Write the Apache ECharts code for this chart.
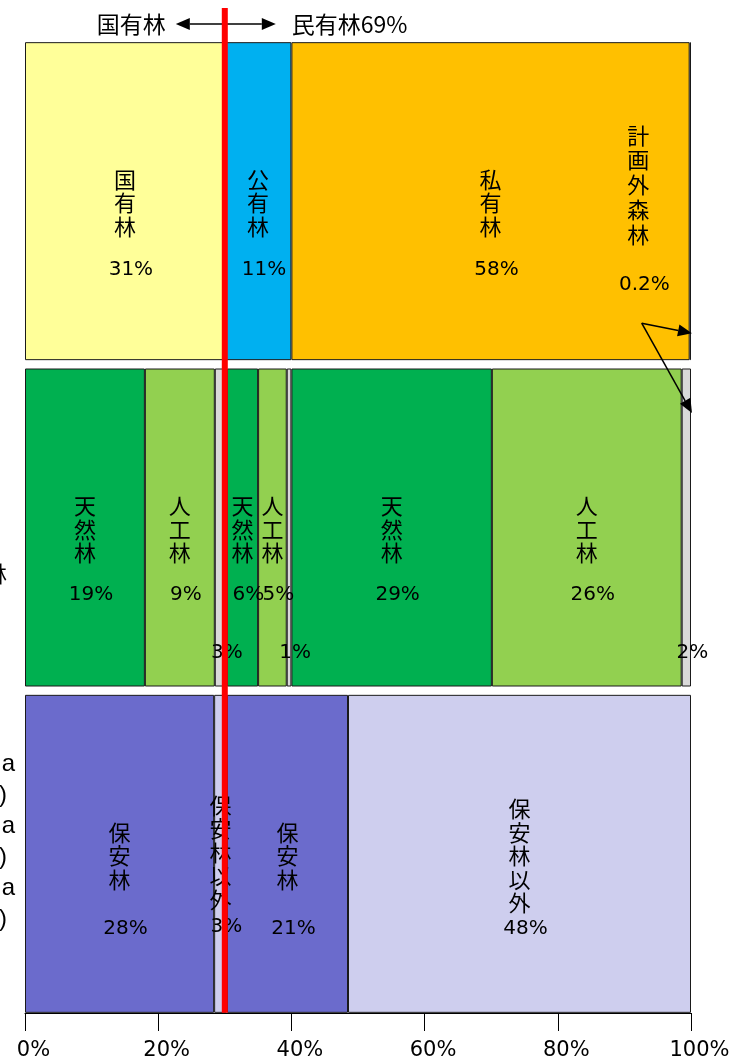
<!DOCTYPE html>
<html>
<head>
<meta charset="utf-8">
<script src="https://cdn.jsdelivr.net/npm/echarts@6/dist/echarts.min.js"></script>
<style>
html,body{margin:0;padding:0;background:#fff;}
#c{width:751px;height:1062px;}
</style>
</head>
<body>
<div id="c"></div>
<script>
// ================= DATA =================
const rowCategories = ['所有区分', '林種区分', '保安林区分'];
const rowLabelFragments = ['', '林', 'a\n)\na\n)\na\n)'];
const segmentRows = [0, 0, 0, 0, 1, 1, 1, 1, 1, 1, 1, 1, 1, 2, 2, 2, 2];
const segmentKinds = ['national', 'public', 'private', 'outside',
  'natural', 'planted', 'other', 'natural', 'planted', 'other', 'natural', 'planted', 'other',
  'protect', 'nonprotect', 'protect', 'nonprotect'];
const segmentTexts = ['国有林', '公有林', '私有林', '計画外森林',
  '天然林', '人工林', '', '天然林', '人工林', '', '天然林', '人工林', '',
  '保安林', '保安林以外', '保安林', '保安林以外'];
const segmentValues = [30.0, 10.0, 59.8, 0.2,
  18.0, 10.5, 1.8, 4.7, 4.3, 0.7, 30.1, 28.5, 1.4,
  28.4, 1.9, 18.2, 51.5];
const segmentPercentLabels = ['31%', '11%', '58%', '0.2%',
  '19%', '9%', '3%', '6%', '5%', '1%', '29%', '26%', '2%',
  '28%', '3%', '21%', '48%'];
const boundaryValue = 30;                 // 国有林 | 民有林 boundary
const topLabels = ['国有林', '民有林69%'];
const calloutFromValue = 92.6;            // origin of the two callout arrows (x, %)
const xTickFormat = '{value}%';

// ================= STYLE / LAYOUT =================
const CJK = '"Noto Sans CJK JP", sans-serif';
const NUM = '"DejaVu Sans", "Noto Sans CJK JP", sans-serif';
const COLORS = {
  national: '#FFFF99', public: '#00B0F0', private: '#FFC000', outside: '#D9D9D9',
  natural: '#00B050', planted: '#92D050', other: '#D9D9D9',
  protect: '#6B6BCC', nonprotect: '#CECEEE'
};
const BAR_W = 318;
const LINE_H = 23.5;
const ROW_CHAR_DY = [1.5, 2, 2];
const ROW_PCT_DY = [69, 67.5, 74.5];
const SMALL_PCT_DY = 125.5;
const LABEL_NUDGE = { 3: { dx: -52, cdy: -16.5, pdy: 84, lineH: 24.75 }, 14: { cdy: -1.5, pdy: 73 } };

function buildLabel(i) {
  const row = segmentRows[i];
  const chars = segmentTexts[i] ? segmentTexts[i].split('') : [];
  const nudge = LABEL_NUDGE[i] || {};
  const dx = nudge.dx || 0;
  const lh = nudge.lineH || LINE_H;
  const cdy = nudge.cdy !== undefined ? nudge.cdy : ROW_CHAR_DY[row];
  const pdy = nudge.pdy !== undefined ? nudge.pdy : ROW_PCT_DY[row];
  const pct = segmentPercentLabels[i];
  const base = {
    show: true, position: 'inside', color: '#000', textBorderWidth: 0,
    fontFamily: NUM, fontSize: 20
  };
  if (chars.length === 0) {
    return Object.assign(base, {
      offset: [dx, SMALL_PCT_DY],
      formatter: '{p|' + pct + '}',
      rich: { p: { fontFamily: NUM, fontSize: 20, color: '#000', lineHeight: 24, padding: [0, 0, 0, 12] } }
    });
  }
  const n = chars.length;
  const dy = pdy - n * lh / 2;
  const L = 2 * (dy - cdy);
  return Object.assign(base, {
    offset: [dx, dy],
    formatter: chars.map(c => '{c|' + c + '}').join('\n') + '\n{p|' + pct + '}',
    rich: {
      c: { fontFamily: CJK, fontSize: 22, color: '#000', lineHeight: lh },
      p: { fontFamily: NUM, fontSize: 20, color: '#000', lineHeight: L, padding: [0, 0, 0, 12] }
    }
  });
}

const series = segmentValues.map((v, i) => ({
  type: 'bar',
  name: segmentTexts[i] || 'その他',
  stack: 'total',
  barWidth: BAR_W,
  data: rowCategories.map((_, r) => (r === segmentRows[i] ? v : '-')),
  itemStyle: { color: COLORS[segmentKinds[i]], borderColor: '#1a1a1a', borderWidth: 1 },
  label: buildLabel(i),
  emphasis: { disabled: true },
  silent: true
}));

const chart = echarts.init(document.getElementById('c'), null, { renderer: 'canvas' });
chart.setOption({
  animation: false,
  backgroundColor: '#fff',
  grid: { left: 25, right: 60, top: 38, bottom: 45, containLabel: false, outerBoundsMode: 'none' },
  xAxis: {
    type: 'value', min: 0, max: 100, interval: 20, offset: -4,
    axisLine: { show: true, lineStyle: { color: '#000', width: 1 } },
    axisTick: { show: true, length: 18, lineStyle: { color: '#000', width: 1 } },
    splitLine: { show: false },
    axisLabel: { formatter: xTickFormat, fontFamily: NUM, fontSize: 21, color: '#000', margin: 27, padding: [0, 0, 0, 17] }
  },
  yAxis: {
    type: 'category', data: rowCategories, inverse: true,
    axisLine: { show: false }, axisTick: { show: false }, splitLine: { show: false },
    axisLabel: {
      margin: 10,
      formatter: (value, idx) => {
        const frag = rowLabelFragments[idx];
        if (!frag) return '';
        const lines = frag.split('\n');
        if (lines.length === 1) return '{gap| }\n{f2|' + frag + '}';
        return lines.map(s => (s === ')' ? '{fb|' + s + '}' : '{fa|' + s + '}')).join('\n') + '\n{gapb| }';
      },
      rich: {
        gap: { lineHeight: 92, fontSize: 10 },
        gapb: { lineHeight: 24, fontSize: 10 },
        f2: { fontFamily: CJK, fontSize: 22, lineHeight: 23, color: '#000', padding: [0, 8, 0, 0] },
        fa: { fontFamily: '"Liberation Sans", sans-serif', fontSize: 24, lineHeight: 31, color: '#000' },
        fb: { fontFamily: '"Liberation Sans", sans-serif', fontSize: 24, lineHeight: 31, color: '#000', padding: [0, 8, 0, 0] }
      }
    }
  },
  series: series
});

// ================= ANNOTATIONS =================
const px = v => chart.convertToPixel({ xAxisIndex: 0 }, v);
const py = c => chart.convertToPixel({ yAxisIndex: 0 }, c);
function arrow(x1, y1, x2, y2, len, half, z) {
  len = len || 13; half = half || 6;
  const ang = Math.atan2(y2 - y1, x2 - x1);
  const bx = x2 - len * Math.cos(ang), by = y2 - len * Math.sin(ang);
  const nx = -Math.sin(ang) * half, ny = Math.cos(ang) * half;
  return [
    { type: 'line', z: z || 105, shape: { x1: x1, y1: y1, x2: bx, y2: by }, style: { stroke: '#000', lineWidth: 1.5 } },
    { type: 'polygon', z: z || 105, shape: { points: [[x2, y2], [bx + nx, by + ny], [bx - nx, by - ny]] }, style: { fill: '#000' } }
  ];
}
const xb = px(boundaryValue);
const r1 = py(rowCategories[0]), r2 = py(rowCategories[1]), r3 = py(rowCategories[2]);
const x100 = px(100);
const ay = 24;
const elements = [];
elements.push.apply(elements, arrow(xb, ay, xb - 49, ay, 14, 6));
elements.push.apply(elements, arrow(xb, ay, xb + 51, ay, 14, 6));
elements.push({
  type: 'text', z: 105,
  style: { text: topLabels[0], x: xb - 59, y: ay, align: 'right', textAlign: 'right', verticalAlign: 'middle', textVerticalAlign: 'middle', font: '23px "Noto Sans CJK JP"', fill: '#000' }
});
elements.push({
  type: 'text', z: 105,
  style: { text: topLabels[1], x: xb + 67, y: ay, align: 'left', textAlign: 'left', verticalAlign: 'middle', textVerticalAlign: 'middle', font: '23px "Noto Sans CJK JP"', fill: '#000' }
});
// callout arrows to the tiny slices
const ox = px(calloutFromValue), oy = r1 + 122;
elements.push.apply(elements, arrow(ox, oy, x100 + 1, r1 + 132, 14, 6));
elements.push.apply(elements, arrow(ox, oy, x100 + 1, r2 - 114.5, 14, 6));
// red boundary line
elements.push({
  type: 'line', z: 120,
  shape: { x1: xb, y1: 8, x2: xb, y2: r3 + BAR_W / 2 },
  style: { stroke: '#FF0000', lineWidth: 6 }
});
chart.setOption({ graphic: { elements: elements } });
</script>
</body>
</html>
